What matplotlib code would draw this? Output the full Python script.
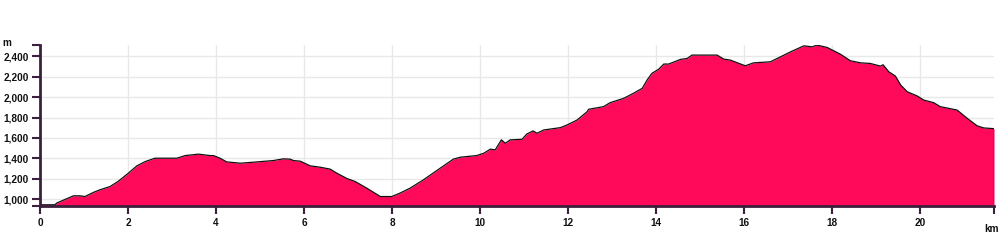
import matplotlib
matplotlib.use('Agg')
import matplotlib.pyplot as plt
from matplotlib.ticker import FuncFormatter

# 거리 (km) / 고도 (m)
distance_km = [0.00, 0.34, 0.38, 0.76, 0.91, 1.02, 1.21, 1.36, 1.59, 1.77, 2.01, 2.20, 2.39, 2.61,
               3.11, 3.30, 3.60, 3.86, 3.94, 4.09, 4.24, 4.55, 4.85, 5.30, 5.53, 5.68, 5.76, 5.91,
               6.14, 6.36, 6.59, 6.74, 6.97, 7.16, 7.42, 7.73, 7.99, 8.18, 8.41, 8.71, 9.09, 9.39,
               9.55, 9.92, 10.08, 10.23, 10.34, 10.48, 10.57, 10.68, 10.95, 11.06, 11.20, 11.29,
               11.44, 11.82, 11.97, 12.20, 12.43, 12.46, 12.80, 12.95, 13.26, 13.48, 13.68, 13.79,
               13.90, 14.05, 14.17, 14.28, 14.55, 14.70, 14.81, 15.38, 15.53, 15.68, 16.02, 16.21,
               16.59, 16.82, 17.05, 17.27, 17.35, 17.54, 17.65, 17.88, 18.18, 18.41, 18.64, 18.86,
               19.09, 19.15, 19.28, 19.43, 19.55, 19.70, 19.93, 20.07, 20.30, 20.45, 20.83, 21.06,
               21.29, 21.44, 21.67]
elevation_m = [944, 944, 961, 1032, 1032, 1025, 1065, 1091, 1123, 1172, 1255, 1326, 1368, 1401,
               1401, 1427, 1441, 1427, 1427, 1401, 1365, 1352, 1362, 1378, 1395, 1392, 1378, 1372,
               1326, 1313, 1294, 1255, 1202, 1172, 1108, 1025, 1025, 1059, 1108, 1189, 1303, 1392,
               1411, 1427, 1450, 1490, 1483, 1581, 1548, 1581, 1587, 1639, 1669, 1646,
               1678, 1701, 1727, 1776, 1858, 1881, 1907, 1946, 1989, 2038, 2087, 2168,
               2234, 2273, 2325, 2325, 2371, 2380, 2413, 2413, 2374, 2364, 2308, 2337,
               2347, 2396, 2445, 2488, 2504, 2494, 2511, 2488, 2422, 2357, 2337, 2331,
               2305, 2318, 2249, 2207, 2119, 2053, 2011, 1972, 1946, 1907, 1874, 1793,
               1718, 1698, 1691]
x_ticks = [0, 2, 4, 6, 8, 10, 12, 14, 16, 18, 20]
y_ticks = [1000, 1200, 1400, 1600, 1800, 2000, 2200, 2400]

FILL = '#ff0a5a'
AXIS = '#3c1f3c'
y_min, y_max = 935, 2512

plt.rcParams['font.family'] = ['Liberation Sans', 'DejaVu Sans']

fig = plt.figure(figsize=(10.03, 2.40), dpi=100)
ax = fig.add_axes([40 / 1003, 34.3 / 240, 954 / 1003, 160.7 / 240])

ax.fill_between(distance_km, elevation_m, y_min, color=FILL, lw=0, zorder=2)
ax.plot(distance_km, elevation_m, color='#111111', lw=0.9, zorder=3)
ax.vlines(distance_km[-1], y_min, elevation_m[-1], color='#111111', lw=0.9, zorder=3)

ax.set_xlim(0, distance_km[-1])
ax.set_ylim(y_min, y_max)
ax.set_xticks(x_ticks)
ax.set_yticks(y_ticks)
# 축 끝 눈금
ax.set_xticks([distance_km[-1]], minor=True)
ax.set_yticks([y_min, y_max], minor=True)
ax.yaxis.set_major_formatter(FuncFormatter(lambda v, p: f'{int(v):,}'))

ax.grid(True, which='major', color='#e8e8e8', lw=1, zorder=0)
ax.set_axisbelow(True)

for side in ('top', 'right'):
    ax.spines[side].set_visible(False)
for side in ('left', 'bottom'):
    ax.spines[side].set_color(AXIS)
    ax.spines[side].set_linewidth(2)
    ax.spines[side].set_zorder(4)

ax.tick_params(axis='both', which='both', color=AXIS, length=6, width=1.5,
               labelsize=7.2, labelcolor='#111111')
ax.tick_params(axis='y', pad=2)
ax.tick_params(axis='x', pad=3)
for lbl in ax.get_xticklabels() + ax.get_yticklabels():
    lbl.set_fontweight('bold')

fig.text(2 / 1003, 1 - 48 / 240, 'm', fontsize=7.2, fontweight='bold', color='#111111',
         ha='left', va='bottom')
fig.text(999 / 1003, 1 - 234 / 240, 'km', fontsize=7.2, fontweight='bold', color='#111111',
         ha='right', va='bottom')

plt.savefig('out.png', dpi=100)
plt.close()
